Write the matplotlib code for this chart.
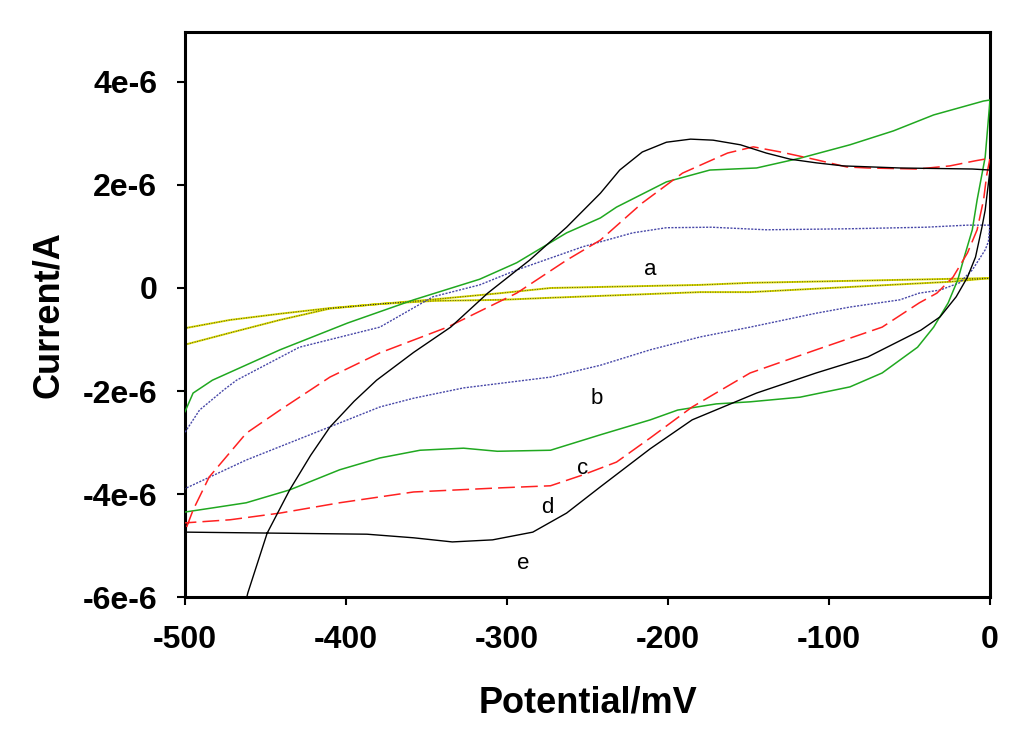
import matplotlib
matplotlib.use("Agg")
import matplotlib.pyplot as plt

plt.rcParams["font.family"] = ["Liberation Sans", "DejaVu Sans"]

# potentials (mV) and currents (1e-6 A)
# curve a (yellow)
a_x = [-500, -472, -441, -410, -379, -345, -304, -273, -180, -149, -4, 0,
       -25, -149, -180, -273, -304, -345, -379, -410, -441, -472, -500]
a_y = [-1.10, -0.87, -0.62, -0.40, -0.31, -0.22, -0.10, 0.0, 0.06, 0.10, 0.19, 0.19,
       0.12, -0.08, -0.08, -0.19, -0.23, -0.25, -0.31, -0.39, -0.50, -0.62, -0.78]

# curve b (blue)
b_x = [-500, -491, -476, -468, -429, -379, -346, -317, -294, -253, -222, -201, -173,
       -139, -87, -40, -14, 0, -1, -3, -11, -19, -31, -44, -56, -87, -108, -149, -180, -211,
       -242, -273, -327, -358, -379, -412, -462, -499, -500]
b_y = [-2.80, -2.37, -1.98, -1.79, -1.15, -0.76, -0.17, 0.06, 0.35, 0.80, 1.07, 1.17, 1.18,
       1.13, 1.15, 1.18, 1.22, 1.22, 0.90, 0.74, 0.35, 0.10, -0.04, -0.10, -0.23, -0.37, -0.49, -0.76, -0.95, -1.20,
       -1.50, -1.73, -1.94, -2.14, -2.31, -2.72, -3.34, -3.88, -3.90]

# curve c (green)
c_x = [-500, -495, -483, -441, -399, -358, -317, -294, -263, -242, -232, -201, -174, -145,
       -118, -87, -60, -35, -4, 0, -3, -8, -11, -16, -20, -26, -35, -45, -67, -87, -118, -149,
       -170, -194, -211, -242, -273, -306, -327, -354, -379, -404, -435, -462, -483, -500]
c_y = [-2.40, -2.04, -1.79, -1.20, -0.68, -0.23, 0.17, 0.49, 1.07, 1.36, 1.57, 2.06, 2.29, 2.33,
       2.52, 2.78, 3.05, 3.36, 3.63, 3.65, 2.54, 1.71, 1.13, 0.60, 0.16, -0.29, -0.76, -1.15, -1.65, -1.92, -2.12, -2.21,
       -2.25, -2.37, -2.56, -2.85, -3.15, -3.17, -3.11, -3.15, -3.30, -3.53, -3.92, -4.17, -4.27, -4.35]

# curve d (red)
d_x = [-499, -495, -485, -462, -441, -410, -379, -337, -294, -263, -242, -216, -191,
       -163, -147, -130, -108, -89, -76, -45, -25, -9, 0, -2, -4, -8, -14, -23, -33, -44, -67,
       -108, -149, -185, -211, -232, -253, -273, -304, -358, -404, -441, -472, -500]
d_y = [-4.64, -4.31, -3.67, -2.82, -2.37, -1.73, -1.26, -0.76, -0.10, 0.54, 0.93, 1.65, 2.23,
       2.62, 2.74, 2.64, 2.49, 2.35, 2.33, 2.31, 2.37, 2.47, 2.52, 2.20, 1.71, 1.13, 0.68, 0.21, -0.10, -0.29, -0.76,
       -1.20, -1.65, -2.31, -2.91, -3.38, -3.63, -3.84, -3.88, -3.96, -4.17, -4.37, -4.50, -4.56]

# curve e (black)
e_x = [-464, -461, -449, -435, -422, -410, -395, -381, -358, -335, -312, -286, -263, -242, -230, -216, -201,
       -186, -172, -155, -139, -124, -108, -91, -56, -11, 0, -3, -5, -9, -14, -21, -31, -43,
       -76, -108, -145, -185, -211, -242, -263, -284, -309, -334, -358, -387, -499, -500]
e_y = [-6.30, -5.92, -4.76, -3.92, -3.25, -2.70, -2.20, -1.79, -1.25, -0.76, -0.10, 0.54, 1.18, 1.84, 2.29, 2.64, 2.83,
       2.89, 2.87, 2.78, 2.62, 2.50, 2.43, 2.37, 2.33, 2.31, 2.29, 1.51, 1.18, 0.60, 0.21, -0.17, -0.56, -0.82,
       -1.34, -1.65, -2.04, -2.56, -3.12, -3.86, -4.37, -4.74, -4.89, -4.93, -4.85, -4.78, -4.74, -4.74]

curve_labels = ["a", "b", "c", "d", "e"]
label_x = [-211, -244, -253, -275, -290]
label_y = [0.35, -2.14, -3.51, -4.27, -5.34]

x_ticks = [-500, -400, -300, -200, -100, 0]
y_ticks = [-6, -4, -2, 0, 2, 4]
y_ticklabels = ["-6e-6", "-4e-6", "-2e-6", "0", "2e-6", "4e-6"]

fig = plt.figure(figsize=(10.24, 7.39), dpi=100)
ax = fig.add_axes([0.1807, 0.1921, 0.7861, 0.7646])

ax.plot(a_x, a_y, color="#d8d800", lw=1.4, zorder=2)
ax.plot(a_x, a_y, color="#303030", lw=0.6, ls=(0, (1, 2)), zorder=2)
ax.plot(b_x, b_y, color="#4848a8", lw=1.0, ls=(0, (1.5, 1)), zorder=3)
ax.plot(c_x, c_y, color="#20a820", lw=1.1, zorder=3)
ax.plot(d_x, d_y, color="#ff2020", lw=1.1, ls=(0, (11, 4)), zorder=4)
ax.plot(e_x, e_y, color="black", lw=1.0, zorder=5)

for s, lx, ly in zip(curve_labels, label_x, label_y):
    ax.text(lx, ly, s, fontsize=16, ha="center", va="center", zorder=6)

ax.set_xlim(-500, 0)
ax.set_ylim(-6, 4.97)
ax.set_xticks(x_ticks)
ax.set_xticklabels([str(t) for t in x_ticks])
ax.set_yticks(y_ticks)
ax.set_yticklabels(y_ticklabels)
ax.tick_params(direction="out", length=6, width=1.5, labelsize=23)
ax.tick_params(axis="x", pad=14)
ax.tick_params(axis="y", pad=14)
for lab in ax.get_xticklabels() + ax.get_yticklabels():
    lab.set_fontweight("bold")
for sp in ax.spines.values():
    sp.set_linewidth(2.2)

ax.set_xlabel("Potential/mV", fontsize=26, fontweight="bold", labelpad=22)
ax.set_ylabel("Current/A", fontsize=26, fontweight="bold", labelpad=12)

fig.savefig("out.png", dpi=100)
